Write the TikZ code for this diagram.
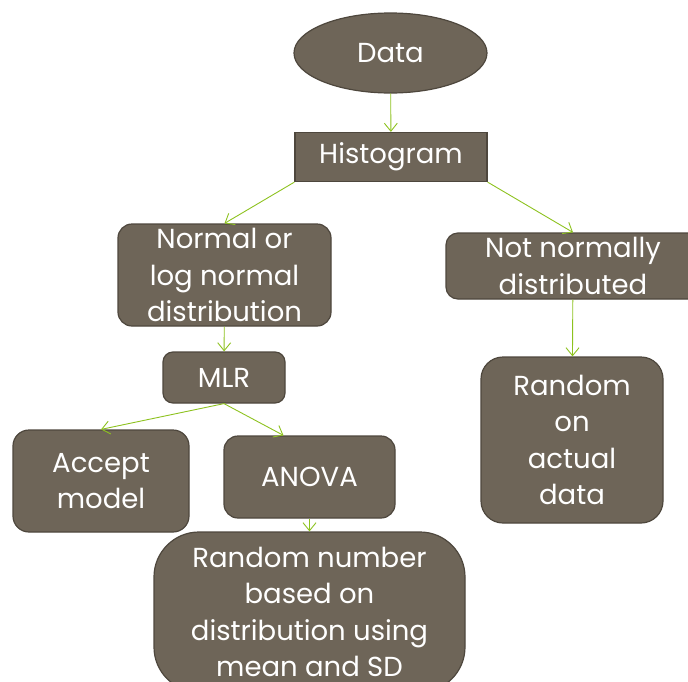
\documentclass[tikz,border=0pt]{standalone}
\usepackage{fontspec}
\setmainfont{Poppins}
\usepackage{xcolor}
\definecolor{boxbrown}{RGB}{110, 101, 88}
\definecolor{boxedge}{RGB}{78, 71, 61}
\definecolor{linkgreen}{RGB}{141, 194, 31}
\usepackage{tikz}
\usetikzlibrary{arrows.meta, positioning, calc, shapes.geometric}

\begin{document}
\begin{tikzpicture}[x=1pt, y=-1pt, >={Straight Barb[length=8pt, width=13pt]},
    box/.style={draw=boxedge, line width=1.2pt, fill=boxbrown, text=white, align=center, inner sep=0pt,
        font=\fontsize{27.5}{36.5}\selectfont},
    link/.style={->, linkgreen, line width=0.9pt}]
    \useasboundingbox (0,0) rectangle (688,681);
    % nodes
    \node[box, ellipse, minimum width=193pt, minimum height=80pt] (data) at (390.5, 53) {Data};
    \node[box, rectangle, minimum width=192pt, minimum height=49pt] (hist) at (391, 157) {Histogram};
    \node[box, rounded corners=14pt, minimum width=213pt, minimum height=102pt] (normal) at (224.5, 275) {Normal or\\log normal\\distribution};
    \node[box, rounded corners=10pt, minimum width=122pt, minimum height=51pt] (mlr) at (224, 377.5) {MLR};
    \node[box, rounded corners=12pt, minimum width=254pt, minimum height=66pt] (notnorm) at (573, 266) {Not normally\\distributed};
    \node[box, rounded corners=22pt, minimum width=182pt, minimum height=166pt] (randact) at (572, 440) {Random\\on\\actual\\data};
    \node[box, rounded corners=16pt, minimum width=176pt, minimum height=102pt] (accept) at (101, 481) {Accept\\model};
    \node[box, rounded corners=14pt, minimum width=171pt, minimum height=82pt] (anova) at (309.5, 477) {ANOVA};
    \node[box, rounded corners=45pt, minimum width=311pt, minimum height=160pt] (randnum) at (309.5, 612) {Random number\\based on\\distribution using\\mean and SD};
    % connectors
    \draw[link] (data) -- (hist);
    \draw[link] (hist.south west) -- (normal.north);
    \draw[link] (hist.south east) -- (notnorm.north);
    \draw[link] (normal) -- (mlr);
    \draw[link] (notnorm) -- (randact);
    \draw[link] (mlr.south) -- (accept.north);
    \draw[link] (mlr.south) -- ([xshift=-26pt]anova.north);
    \draw[link] (anova) -- (randnum);
\end{tikzpicture}
\end{document}
